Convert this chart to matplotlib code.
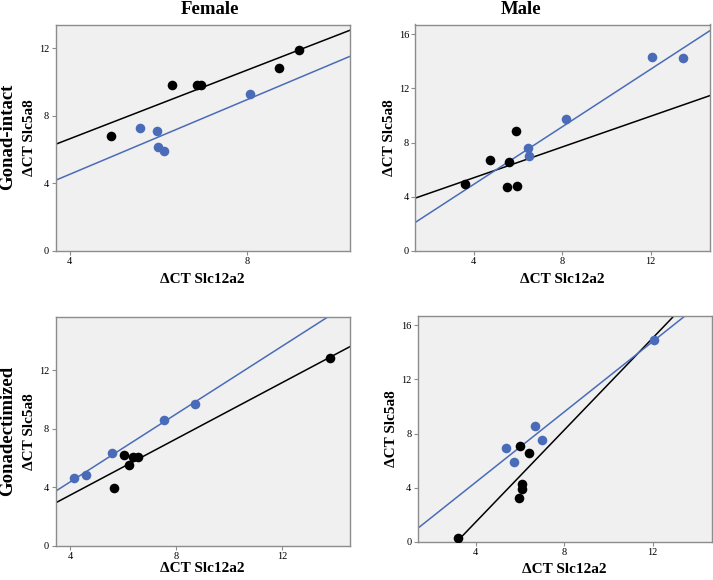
import matplotlib
matplotlib.use('Agg')
import matplotlib.pyplot as plt
import numpy as np

plt.rcParams['font.family'] = ['Liberation Serif', 'DejaVu Serif']

BLUE = '#4a6cb8'
BG = '#f0f0f0'
FRAME = '#8c8c8c'

# Female, gonad-intact
fi_black_x = [4.93, 6.32, 6.87, 6.97, 8.73, 9.17]
fi_black_y = [6.80, 9.85, 9.85, 9.85, 10.82, 11.92]
fi_blue_x = [5.59, 5.98, 6.00, 6.14, 8.08]
fi_blue_y = [7.27, 7.07, 6.15, 5.89, 9.30]

# Male, gonad-intact
mi_black_x = [3.62, 4.74, 5.61, 5.50, 5.91, 5.95]
mi_black_y = [4.95, 6.70, 6.53, 4.70, 8.87, 4.80]
mi_blue_x = [6.45, 6.51, 8.18, 12.06, 13.47]
mi_blue_y = [7.59, 7.02, 9.75, 14.31, 14.21]

# Female, gonadectomized
fg_black_x = [6.02, 6.22, 6.38, 6.57, 5.67, 13.79]
fg_black_y = [6.21, 5.50, 6.09, 6.05, 3.97, 12.82]
fg_blue_x = [4.16, 4.59, 5.58, 7.54, 8.69]
fg_blue_y = [4.63, 4.84, 6.32, 8.58, 9.72]

# Male, gonadectomized
mg_black_x = [3.22, 6.02, 6.39, 6.08, 6.08, 5.96]
mg_black_y = [0.25, 7.07, 6.55, 4.29, 3.87, 3.23]
mg_blue_x = [5.36, 5.75, 6.67, 7.01, 12.04]
mg_blue_y = [6.92, 5.91, 8.52, 7.54, 14.95]

W, H = 713, 580


def box(l, t, r, b):
    return [l / W, 1 - b / H, (r - l) / W, (b - t) / H]


panels = [
    (box(55.5, 24.5, 350, 251), fi_black_x, fi_black_y, fi_blue_x, fi_blue_y,
     (3.68, 10.33), (0, 13.4), [4, 8], [0, 4, 8, 12], 5),
    (box(415.3, 24.5, 710, 251), mi_black_x, mi_black_y, mi_blue_x, mi_blue_y,
     (1.37, 14.68), (0, 16.71), [4, 8, 12], [0, 4, 8, 12, 16], 5),
    (box(55.5, 316.7, 350, 545.7), fg_black_x, fg_black_y, fg_blue_x, fg_blue_y,
     (3.45, 14.55), (0, 15.67), [4, 8, 12], [0, 4, 8, 12], 0.5),
    (box(417.7, 316, 711.7, 541.7), mg_black_x, mg_black_y, mg_blue_x, mg_blue_y,
     (1.38, 14.67), (0, 16.69), [4, 8, 12], [0, 4, 8, 12, 16], 4),
]

fig = plt.figure(figsize=(W / 100, H / 100), dpi=100)

for pos, bx, by, ux, uy, xl, yl, xt, yt, xpad in panels:
    ax = fig.add_axes(pos)
    ax.set_facecolor(BG)
    xs = np.array(xl)
    for x, y, c in [(bx, by, 'black'), (ux, uy, BLUE)]:
        k, b0 = np.polyfit(x, y, 1)
        ax.plot(xs, k * xs + b0, color=c, lw=1.1, zorder=2)
    ax.scatter(bx, by, s=48, color='black', zorder=3, linewidths=0)
    ax.scatter(ux, uy, s=48, color=BLUE, zorder=3, linewidths=0)
    ax.set_xlim(xl)
    ax.set_ylim(yl)
    ax.set_xticks(xt)
    ax.set_yticks(yt)
    ax.tick_params(labelsize=7.5, length=3, width=0.8, color=FRAME, pad=1.5)
    for sp in ax.spines.values():
        sp.set_color(FRAME)
        sp.set_linewidth(1.0)
    ax.set_xlabel('ΔCT Slc12a2', fontsize=11, fontweight='bold', labelpad=xpad)
    ax.set_ylabel('ΔCT Slc5a8', fontsize=11, fontweight='bold', labelpad=2)

fig.text(210 / W, 1 - 9 / H, 'Female', ha='center', va='center',
         fontsize=13.5, fontweight='bold')
fig.text(521 / W, 1 - 9 / H, 'Male', ha='center', va='center',
         fontsize=13.5, fontweight='bold')
fig.text(7.5 / W, 1 - 137 / H, 'Gonad-intact', ha='center', va='center',
         rotation=90, fontsize=13.5, fontweight='bold')
fig.text(7.5 / W, 1 - 431 / H, 'Gonadectimized', ha='center', va='center',
         rotation=90, fontsize=13.5, fontweight='bold')

fig.savefig('out.png', dpi=100)
